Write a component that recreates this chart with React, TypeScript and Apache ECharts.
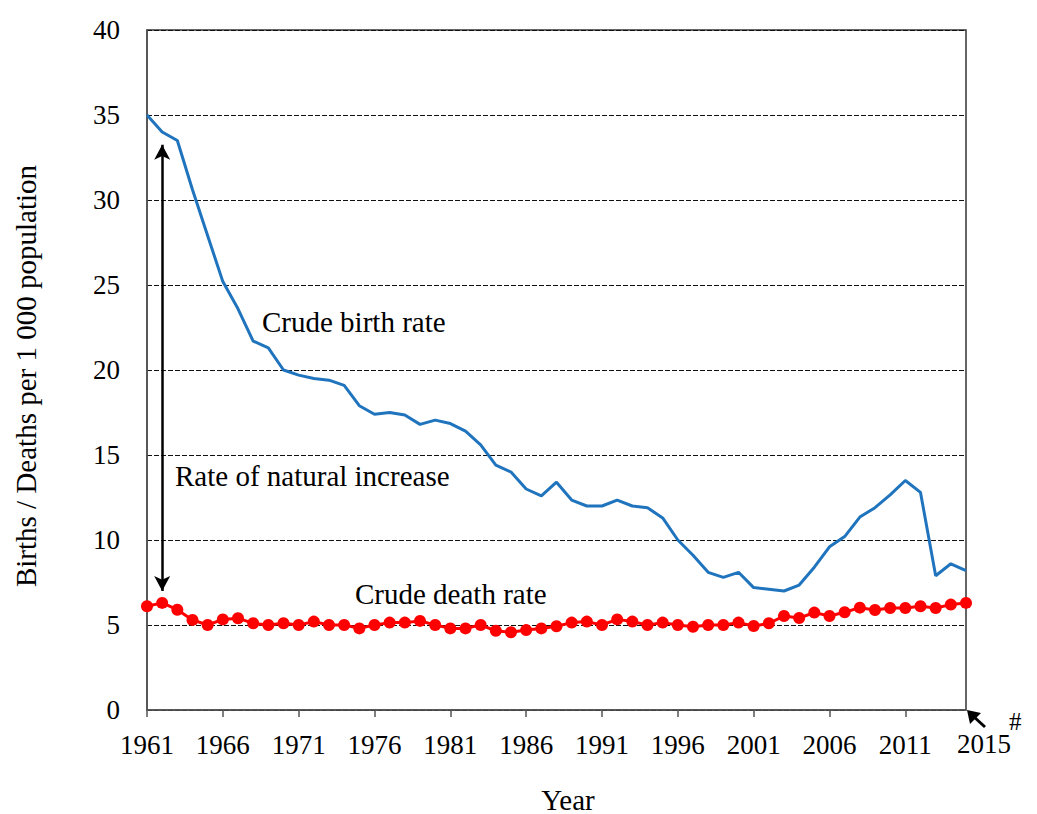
import React, { useEffect, useRef } from "react";
import * as echarts from "echarts";

const years: string[] = [];
for (let y = 1961; y <= 2015; y++) years.push(String(y));

const birthRate = [
  35.0, 34.0, 33.5, 30.6, 27.9, 25.2, 23.6, 21.7, 21.3, 20.0,
  19.7, 19.5, 19.4, 19.1, 17.9, 17.4, 17.5, 17.35, 16.8, 17.05,
  16.85, 16.4, 15.6, 14.4, 14.0, 13.0, 12.6, 13.4, 12.35, 12.0,
  12.0, 12.35, 12.0, 11.9, 11.3, 10.0, 9.1, 8.1, 7.8, 8.1,
  7.2, 7.1, 7.0, 7.35, 8.4, 9.6, 10.2, 11.35, 11.9, 12.65,
  13.5, 12.8, 7.9, 8.6, 8.2,
];

const deathRate = [
  6.1, 6.3, 5.9, 5.3, 5.0, 5.33, 5.4, 5.1, 5.0, 5.1,
  5.0, 5.2, 5.0, 5.0, 4.8, 5.0, 5.14, 5.14, 5.24, 5.0,
  4.8, 4.8, 5.0, 4.66, 4.57, 4.7, 4.8, 4.93, 5.14, 5.2,
  5.0, 5.33, 5.2, 5.0, 5.14, 5.0, 4.9, 5.0, 5.0, 5.14,
  4.94, 5.1, 5.53, 5.41, 5.73, 5.53, 5.75, 6.02, 5.88, 6.0,
  6.0, 6.1, 6.0, 6.2, 6.3,
];

const yTicks = { min: 0, max: 40, interval: 5 };
// natural increase arrow: year, top value, bottom value
const arrowYear = "1962";
const arrowTop = 33.25;
const arrowBottom = 7.0;

const FONT = "'Liberation Serif', 'Times New Roman', serif";

export default function App() {
  const ref = useRef<HTMLDivElement>(null);
  useEffect(() => {
    if (!ref.current) return;
    const chart = echarts.init(ref.current, undefined, { renderer: "svg" });
    chart.setOption({
      animation: false,
      backgroundColor: "#fff",
      textStyle: { fontFamily: FONT },
      grid: {
        left: 147,
        top: 30,
        right: 71,
        bottom: 104,
        show: true,
        borderColor: "#333",
        borderWidth: 1.5,
      },
      xAxis: {
        type: "category",
        data: years,
        boundaryGap: false,
        axisLine: { lineStyle: { color: "#555", width: 1.5 } },
        axisTick: {
          show: true,
          length: 7,
          interval: (i: number) => i % 5 === 0 && i < 54,
          lineStyle: { color: "#555", width: 1.5 },
        },
        axisLabel: {
          interval: (i: number) => i % 5 === 0 && i < 54,
          margin: 21,
          fontFamily: FONT,
          fontSize: 27,
          color: "#000",
        },
        splitLine: { show: false },
      },
      yAxis: {
        type: "value",
        min: yTicks.min,
        max: yTicks.max,
        interval: yTicks.interval,
        axisLine: { show: true, lineStyle: { color: "#555", width: 1.5 } },
        axisTick: { show: false },
        axisLabel: { margin: 27, fontFamily: FONT, fontSize: 27, color: "#000" },
        splitLine: {
          show: true,
          lineStyle: { color: "#111", width: 1, type: [5, 2] },
        },
      },
      series: [
        {
          name: "Crude birth rate",
          type: "line",
          data: birthRate,
          showSymbol: false,
          symbol: "none",
          lineStyle: { color: "#1f74bd", width: 3 },
          z: 3,
          markLine: {
            silent: true,
            symbol: ["arrow", "arrow"],
            symbolSize: [12, 15],
            label: { show: false },
            lineStyle: { color: "#000", width: 2.5, type: "solid" },
            data: [[{ coord: [arrowYear, arrowTop] }, { coord: [arrowYear, arrowBottom] }]],
          },
        },
        {
          name: "Crude death rate",
          type: "line",
          data: deathRate,
          symbol: "circle",
          symbolSize: 12,
          showSymbol: true,
          showAllSymbol: true,
          itemStyle: { color: "#ff0000" },
          lineStyle: { color: "#ff0000", width: 3 },
          z: 4,
        },
      ],
      graphic: [
        {
          type: "text",
          x: 26,
          y: 376,
          rotation: Math.PI / 2,
          style: {
            text: "Births / Deaths per 1 000 population",
            fontFamily: FONT,
            fontSize: 29,
            fill: "#000",
            align: "center",
            verticalAlign: "middle",
          },
        },
        {
          type: "text",
          x: 568,
          y: 814,
          style: {
            text: "Year",
            fontFamily: FONT,
            fontSize: 29,
            fill: "#000",
            align: "center",
            verticalAlign: "bottom",
          },
        },
        {
          type: "text",
          left: 262,
          top: 307,
          style: { text: "Crude birth rate", fontFamily: FONT, fontSize: 29, fill: "#000" },
        },
        {
          type: "text",
          left: 175,
          top: 461,
          style: { text: "Rate of natural increase", fontFamily: FONT, fontSize: 29, fill: "#000" },
        },
        {
          type: "text",
          left: 355,
          top: 579,
          style: { text: "Crude death rate", fontFamily: FONT, fontSize: 29, fill: "#000" },
        },
        {
          type: "text",
          left: 957,
          top: 730,
          style: { text: "2015", fontFamily: FONT, fontSize: 27, fill: "#000" },
        },
        {
          type: "text",
          left: 1009,
          top: 709,
          style: { text: "#", fontFamily: FONT, fontSize: 25, fill: "#000" },
        },
        {
          type: "line",
          shape: { x1: 973, y1: 716, x2: 985, y2: 727 },
          style: { stroke: "#000", lineWidth: 3 },
        },
        {
          type: "polygon",
          shape: { points: [[967, 710], [981, 713], [970, 724]] },
          style: { fill: "#000" },
        },
      ],
    });
    return () => chart.dispose();
  }, []);
  return (
    <div
      style={{
        position: "fixed",
        left: 0,
        top: 0,
        width: 1037,
        height: 814,
        overflow: "hidden",
        background: "#fff",
      }}
    >
      <div ref={ref} style={{ width: 1037, height: 814, overflow: "hidden" }} />
    </div>
  );
}
